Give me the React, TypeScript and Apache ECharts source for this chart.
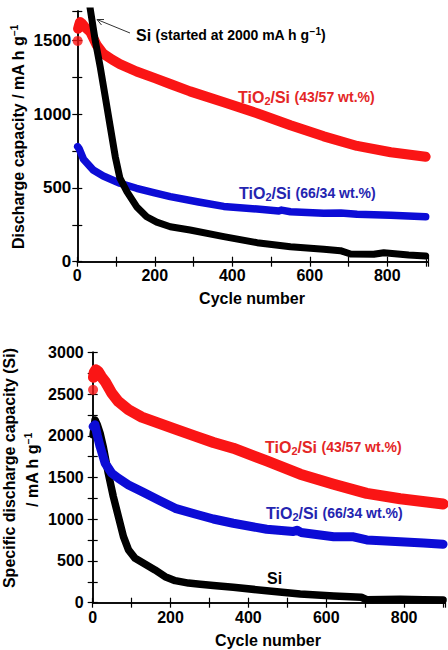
import React, { useEffect, useRef } from "react";
import * as echarts from "echarts";

// ---- Upper panel: discharge capacity (mA h g^-1) vs cycle number ----
const topRedCycles = [1, 2, 4, 7, 12, 20, 33, 50, 67, 90, 110, 153, 200, 240, 291, 378, 464, 550, 636, 722, 809, 899];
const topRedValues = [1497, 1580, 1600, 1625, 1615, 1590, 1560, 1470, 1410, 1370, 1340, 1290, 1245, 1205, 1155, 1081, 1007, 925, 850, 785, 742, 712];

const topBlueCycles = [1, 5, 16, 41, 67, 110, 153, 197, 240, 313, 378, 464, 520, 527, 550, 636, 680, 722, 809, 899];
const topBlueValues = [780, 765, 695, 622, 581, 532, 498, 468, 441, 405, 375, 357, 344, 350, 339, 328, 330, 321, 315, 305];

const topBlackCycles = [1, 6, 20, 27, 33, 46, 59, 72, 85, 98, 110, 128, 153, 179, 205, 240, 291, 378, 464, 550, 636, 679, 705, 765, 791, 855, 899];
const topBlackValues = [2000, 2190, 2030, 1871, 1720, 1504, 1323, 1120, 916, 712, 566, 475, 373, 305, 268, 237, 215, 170, 129, 102, 84, 75, 52, 50, 61, 45, 39];

// ---- Lower panel: specific discharge capacity of Si ----
const botRedCycles = [1, 2, 4, 8, 14, 22, 32, 49, 66, 92, 126, 169, 212, 263, 310, 361, 447, 533, 619, 704, 790, 900];
const botRedValues = [2550, 2700, 2760, 2790, 2770, 2710, 2650, 2511, 2410, 2311, 2223, 2151, 2079, 1995, 1920, 1851, 1700, 1540, 1420, 1310, 1245, 1183];

const botBlueCycles = [1, 6, 12, 19, 32, 49, 66, 92, 126, 169, 212, 263, 310, 361, 447, 515, 525, 535, 619, 670, 704, 790, 850, 900];
const botBlueValues = [2110, 2131, 2000, 1871, 1671, 1551, 1491, 1411, 1331, 1231, 1131, 1063, 1003, 952, 880, 852, 868, 842, 791, 790, 752, 731, 715, 700];

const botBlackCycles = [1, 6, 12, 19, 27, 40, 53, 66, 79, 92, 109, 134, 160, 186, 212, 246, 276, 310, 361, 447, 533, 619, 690, 704, 790, 850, 900];
const botBlackValues = [2011, 2190, 2130, 2031, 1871, 1551, 1271, 1031, 791, 632, 532, 464, 392, 312, 264, 235, 222, 205, 184, 144, 104, 80, 65, 35, 40, 35, 32];

const xTickLabels = [0, 200, 400, 600, 800];
const topYTickLabels = [0, 500, 1000, 1500];
const botYTickLabels = [0, 500, 1000, 1500, 2000, 2500, 3000];

const FONT = "'Liberation Sans', Arial, sans-serif";
const RED = "#fa1515";
const RED_TEXT = "#e42626";
const BLUE = "#0c0cd6";
const BLUE_TEXT = "#2424b0";

const pairs = (xs: number[], ys: number[]) => xs.map((x, i) => [x, ys[i]]);

function baseAxes(gridIndex: number, yMax: number, xLabelSize: number, yLabelSize: number, xMargin: number, yMargin: number, yLabels: number[]) {
  const tick = { inside: true, length: 5, lineStyle: { color: "#000", width: 1.2 } };
  const line = { show: true, lineStyle: { color: "#000", width: 1.5 } };
  const xMain = {
    type: "value", gridIndex, min: 0, max: 905, interval: 100, position: "bottom",
    axisLine: line, axisTick: tick, splitLine: { show: false },
    axisLabel: {
      margin: xMargin, color: "#000", fontFamily: FONT, fontWeight: "bold", fontSize: xLabelSize,
      formatter: (v: number) => (xTickLabels.includes(v) ? String(v) : ""),
    },
  };
  const xMirror = {
    type: "value", gridIndex, min: 0, max: 905, interval: 100, position: "top",
    axisLine: line, axisTick: tick, axisLabel: { show: false }, splitLine: { show: false },
  };
  const yMain = {
    type: "value", gridIndex, min: 0, max: yMax, interval: 250, position: "left",
    axisLine: line, axisTick: tick, splitLine: { show: false },
    axisLabel: {
      margin: yMargin, color: "#000", fontFamily: FONT, fontWeight: "bold", fontSize: yLabelSize,
      formatter: (v: number) => (yLabels.includes(v) ? String(v) : ""),
    },
  };
  const yMirror = {
    type: "value", gridIndex, min: 0, max: yMax, interval: 250, position: "right",
    axisLine: line, axisTick: tick, axisLabel: { show: false }, splitLine: { show: false },
  };
  return { xMain, xMirror, yMain, yMirror };
}

function band(name: string, data: number[][], color: string, width: number, xAxisIndex: number, yAxisIndex: number) {
  return {
    name, type: "line", xAxisIndex, yAxisIndex, data, symbol: "none", clip: true,
    lineStyle: { color, width, cap: "round", join: "round" },
    z: 2,
  };
}

function dot(name: string, point: number[], color: string, size: number, xAxisIndex: number, yAxisIndex: number) {
  return {
    name, type: "scatter", xAxisIndex, yAxisIndex, data: [point], symbol: "circle", symbolSize: size,
    itemStyle: { color }, z: 2,
  };
}

const richLabel = (mainSize: number, smallSize: number, color: string) => ({
  t: { fontFamily: FONT, fontWeight: "bold", fontSize: mainSize, lineHeight: 18, fill: color, color },
  s: { fontFamily: FONT, fontWeight: "bold", fontSize: smallSize, lineHeight: 18, fill: color, color },
  sub: { fontFamily: FONT, fontWeight: "bold", fontSize: 11, lineHeight: 9, verticalAlign: "bottom", fill: color, color },
  sup: { fontFamily: FONT, fontWeight: "bold", fontSize: 10, lineHeight: 8, verticalAlign: "top", fill: color, color },
});

function textEl(x: number, y: number, text: string, rich: any, rotation = 0, align = "center") {
  return {
    type: "text", x, y, rotation, z: 10,
    style: { text, rich, font: `bold 16px ${FONT}`, fill: "#000", align, verticalAlign: "middle", textAlign: align, textVerticalAlign: "middle" },
  };
}

export default function App() {
  const ref = useRef<HTMLDivElement>(null);

  useEffect(() => {
    if (!ref.current) return;
    const chart = echarts.init(ref.current, undefined, { renderer: "svg" });

    const top = baseAxes(0, 1700, 16, 17, 6, 6, topYTickLabels);
    const bot = baseAxes(1, 3000, 16, 16, 7, 9, botYTickLabels);

    const topRed = pairs(topRedCycles, topRedValues);
    const topBlue = pairs(topBlueCycles, topBlueValues);
    const topBlack = pairs(topBlackCycles, topBlackValues);
    const botRed = pairs(botRedCycles, botRedValues);
    const botBlue = pairs(botBlueCycles, botBlueValues);
    const botBlack = pairs(botBlackCycles, botBlackValues);

    const blackRich = richLabel(16, 14, "#000");
    const redRich = richLabel(16, 14, RED_TEXT);
    const blueRich = richLabel(16, 14, BLUE_TEXT);

    chart.setOption({
      animation: false,
      backgroundColor: "#fff",
      grid: [
        { left: 77.3, top: 11, width: 350.7, height: 250.7 },
        { left: 92.7, top: 352.3, width: 352.3, height: 250.4 },
      ],
      xAxis: [top.xMain, top.xMirror, bot.xMain, bot.xMirror],
      yAxis: [top.yMain, top.yMirror, bot.yMain, bot.yMirror],
      series: [
        // upper panel
        dot("TiO2/Si (43/57) first cycle", topRed[0], RED, 10, 0, 0),
        band("TiO2/Si (43/57 wt.%)", topRed.slice(1), RED, 10, 0, 0),
        band("TiO2/Si (66/34 wt.%)", topBlue, BLUE, 7.5, 0, 0),
        band("Si", topBlack, "#000", 7, 0, 0),
        // lower panel
        band("Si", botBlack, "#000", 7.5, 2, 2),
        band("TiO2/Si (66/34 wt.%)", botBlue, BLUE, 9, 2, 2),
        dot("TiO2/Si (43/57) first cycle", botRed[0], RED, 10, 2, 2),
        band("TiO2/Si (43/57 wt.%)", botRed.slice(1), RED, 11, 2, 2),
      ],
      graphic: [
        // axis titles
        textEl(18, 137, "{t|Discharge capacity / mA h g}{sup|−1}", blackRich, Math.PI / 2),
        textEl(252, 298, "{t|Cycle number}", blackRich),
        textEl(9, 468, "{t|Specific discharge capacity (Si)}", blackRich, Math.PI / 2),
        textEl(32, 470, "{t|/ mA h g}{sup|−1}", blackRich, Math.PI / 2),
        textEl(268, 640, "{t|Cycle number}", blackRich),
        // upper panel annotations
        textEl(136, 35, "{t|Si }{s|(started at 2000 mA h g}{sup|−1}{s|)}", blackRich, 0, "left"),
        textEl(238, 97, "{t|TiO}{sub|2}{t|/Si }{s|(43/57 wt.%)}", redRich, 0, "left"),
        textEl(239, 193, "{t|TiO}{sub|2}{t|/Si }{s|(66/34 wt.%)}", blueRich, 0, "left"),
        // lower panel annotations
        textEl(265, 447, "{t|TiO}{sub|2}{t|/Si }{s|(43/57 wt.%)}", redRich, 0, "left"),
        textEl(266, 513, "{t|TiO}{sub|2}{t|/Si }{s|(66/34 wt.%)}", blueRich, 0, "left"),
        textEl(267, 578, "{t|Si}", blackRich, 0, "left"),
        // pointer to the Si curve
        { type: "line", z: 10, shape: { x1: 130, y1: 33, x2: 97, y2: 19.5 }, style: { stroke: "#333", lineWidth: 1 } },
        { type: "polyline", z: 10, shape: { points: [[104, 19.5], [97, 19.5], [101.5, 25]] }, style: { stroke: "#333", lineWidth: 1, fill: null } },
      ],
    });

    return () => chart.dispose();
  }, []);

  return (
    <div
      ref={ref}
      style={{ position: "absolute", left: 0, top: 0, width: 448, height: 650, background: "#fff" }}
    />
  );
}
